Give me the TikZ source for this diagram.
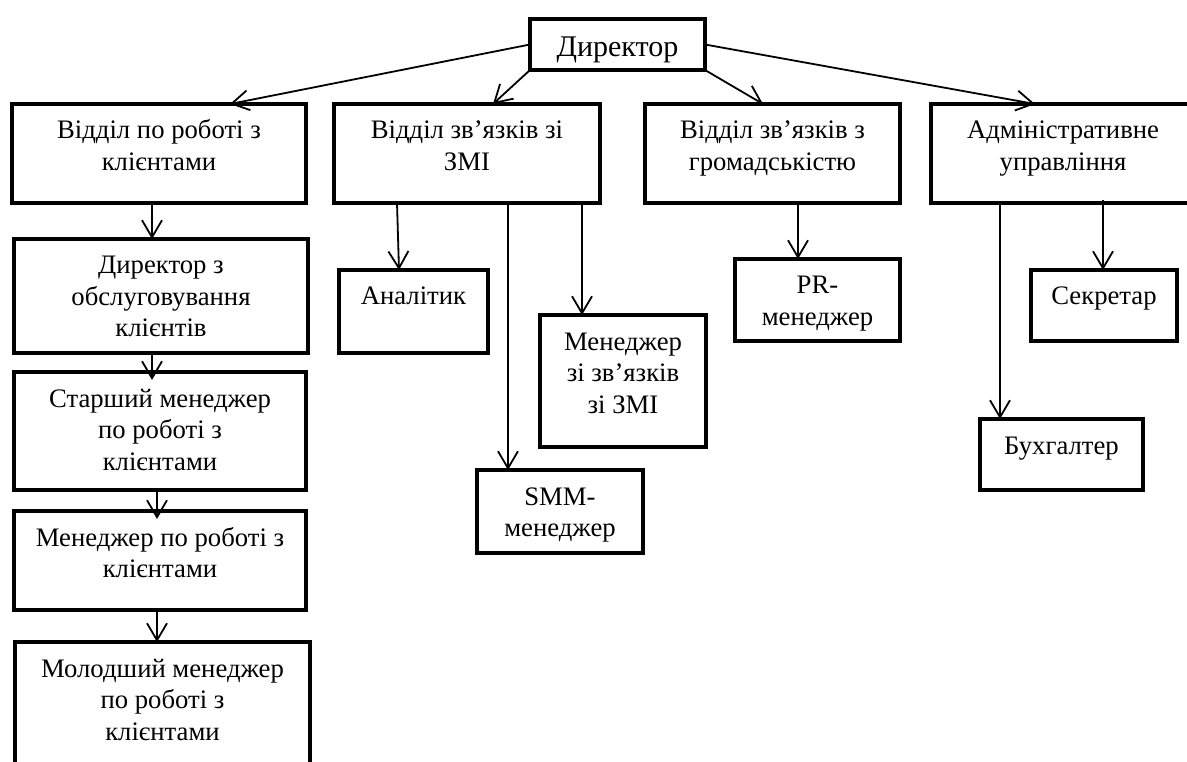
\documentclass[tikz,border=0pt]{standalone}
\usepackage{fontspec}
\setmainfont{Liberation Serif}
\usetikzlibrary{arrows.meta, positioning}

\newcommand{\cellbox}[4][35]{\parbox[t][#3pt][t]{#2pt}{\centering\rule{0pt}{#1pt}#4}}

\begin{document}
\begin{tikzpicture}[x=1pt, y=-1pt,
  unit/.style={draw, line width=4pt, inner sep=0pt, outer sep=0pt, anchor=north west, font=\fontsize{26.7}{31.5}\selectfont},
  head/.style={unit, font=\fontsize{30}{36}\selectfont},
  arrow/.style={-{Straight Barb[length=17pt, width=20pt]}, line width=1.8pt}
]
  \useasboundingbox (0,0) rectangle (1187,762);
  \fill[white] (0,0) rectangle (1187,762);
  \clip (0,0) rectangle (1187,762);

  % top level
  \node[head] (dir) at (530,19) {\cellbox[38]{175}{51}{Директор}};
  \node[unit] (clients) at (12,104) {\cellbox{294}{99}{Відділ по роботі з\\клієнтами}};
  \node[unit] (media) at (334,104) {\cellbox{266}{99}{Відділ зв’язків зі\\ЗМІ}};
  \node[unit] (public) at (645,104) {\cellbox{255}{99}{Відділ зв’язків з\\громадськістю}};
  \node[unit] (admin) at (931,104) {\cellbox{264}{99}{Адміністративне\\управління}};

  % clients column
  \node[unit] (clDirector) at (14,239) {\cellbox{294}{114}{Директор з\\обслуговування\\клієнтів}};
  \node[unit] (clSenior) at (14,372) {\cellbox{292}{118}{Старший менеджер\\по роботі з\\клієнтами}};
  \node[unit] (clManager) at (14,511) {\cellbox{292}{99}{Менеджер по роботі з\\клієнтами}};
  \node[unit] (clJunior) at (15,642) {\cellbox{295}{140}{Молодший менеджер\\по роботі з\\клієнтами}};

  % other staff
  \node[unit] (analyst) at (339,270) {\cellbox{149}{83}{Аналітик}};
  \node[unit] (smm) at (477,470) {\cellbox{166}{83}{SMM-\\менеджер}};
  \node[unit] (mediaMgr) at (540,315) {\cellbox{166}{132}{Менеджер\\зі зв’язків\\зі ЗМІ}};
  \node[unit] (prMgr) at (735,259) {\cellbox{165}{82}{PR-\\менеджер}};
  \node[unit] (secretary) at (1031,270) {\cellbox{146}{71}{Секретар}};
  \node[unit] (accountant) at (980,419) {\cellbox{163}{71}{Бухгалтер}};

  % director to departments
  \draw[arrow] (dir.west) -- ([xshift=218pt]clients.north west);
  \draw[arrow] (dir.south west) -- ([xshift=159pt]media.north west);
  \draw[arrow] (dir.south east) -- ([xshift=118pt]public.north west);
  \draw[arrow] (dir.east) -- ([xshift=104pt]admin.north west);

  % departments to staff
  \draw[arrow] ([xshift=140pt]clients.south west) -- ([xshift=138pt]clDirector.north west);
  \draw[arrow] ([xshift=138pt]clDirector.south west) -- ([xshift=138pt, yshift=-8pt]clSenior.north west);
  \draw[arrow] ([xshift=143pt]clSenior.south west) -- ([xshift=143pt, yshift=-8pt]clManager.north west);
  \draw[arrow] ([xshift=143pt]clManager.south west) -- ([xshift=142pt]clJunior.north west);
  \draw[arrow] ([xshift=63pt]media.south west) -- ([xshift=60pt]analyst.north west);
  \draw[arrow] ([xshift=174pt]media.south west) -- ([xshift=31pt]smm.north west);
  \draw[arrow] ([xshift=248pt]media.south west) -- ([xshift=42pt]mediaMgr.north west);
  \draw[arrow] ([xshift=153pt]public.south west) -- ([xshift=63pt]prMgr.north west);
  \draw[arrow] ([xshift=69pt]admin.south west) -- ([xshift=20pt]accountant.north west);
  \draw[arrow] ([xshift=172pt, yshift=3pt]admin.south west) -- ([xshift=72pt]secretary.north west);
\end{tikzpicture}
\end{document}
